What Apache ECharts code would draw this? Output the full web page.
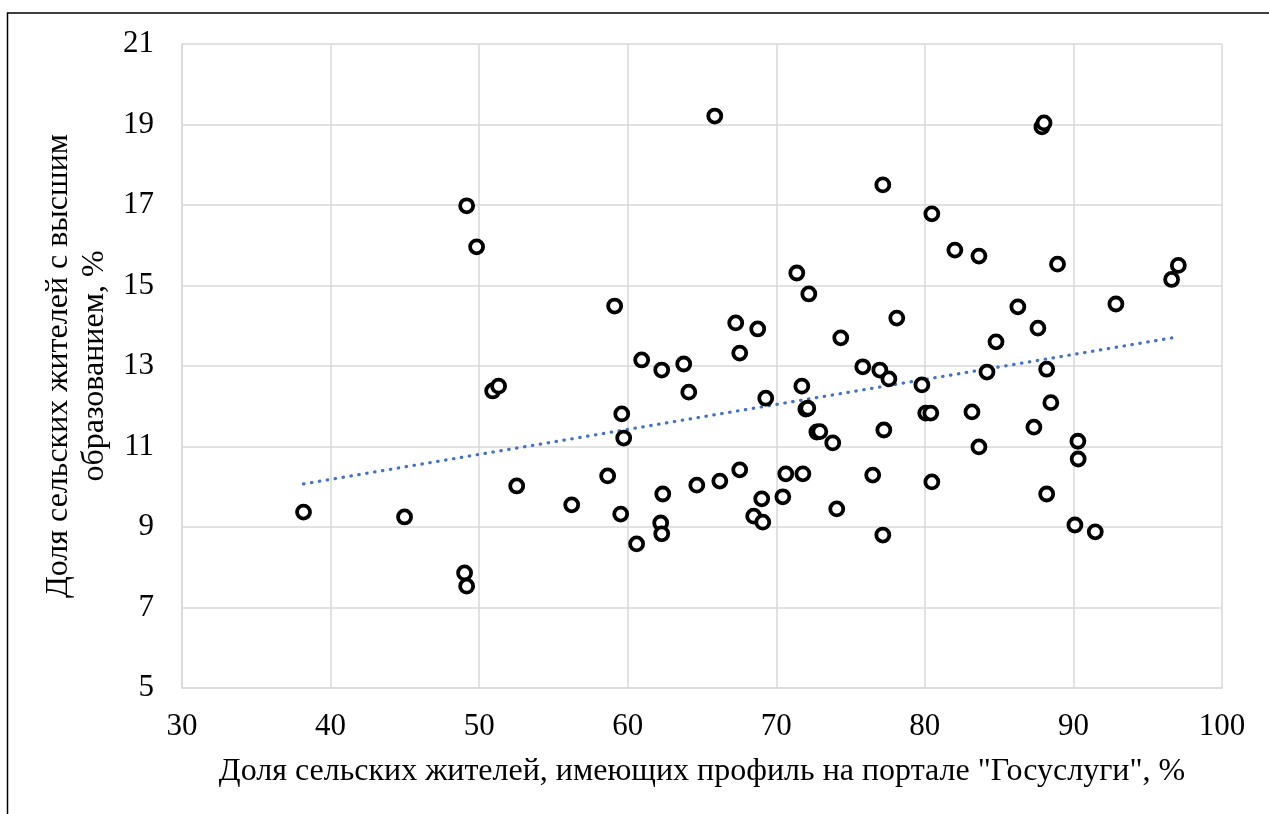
<!DOCTYPE html>
<html>
<head>
<meta charset="utf-8">
<script src="https://cdn.jsdelivr.net/npm/echarts@6/dist/echarts.min.js"></script>
<style>
html,body{margin:0;padding:0;background:#fff;}
#main{width:1269px;height:814px;}
</style>
</head>
<body>
<div id="main"></div>
<script>
// X: share of rural residents with a Gosuslugi profile, %
var xValues = [
  38.18, 44.98, 49.16, 49.83, 49.02, 49.16, 50.91, 51.31, 52.53, 56.23,
  58.65, 59.12, 59.60, 59.73, 59.53, 60.60, 60.94, 62.22, 62.29, 62.29,
  62.36, 63.77, 64.11, 64.65, 65.86, 66.20, 67.27, 67.54, 67.54, 68.75,
  68.48, 69.02, 69.09, 69.29, 70.44, 70.64, 71.38, 71.72, 71.79, 72.19,
  71.99, 72.12, 72.73, 72.93, 73.80, 74.07, 74.34, 75.82, 76.49, 76.97,
  77.17, 77.17, 77.24, 77.58, 78.11, 79.80, 80.06, 80.40, 80.47, 80.47,
  82.02, 83.17, 83.64, 83.64, 84.18, 84.79, 86.26, 87.34, 87.61, 87.88,
  88.02, 88.20, 88.48, 88.20, 88.93, 90.30, 90.32, 90.10, 91.47, 92.86,
  96.61, 97.06
];
// Y: share of rural residents with higher education, %
var yValues = [
  9.37, 9.25, 16.98, 15.96, 7.86, 7.53, 12.38, 12.50, 10.02, 9.55,
  10.27, 14.49, 11.81, 11.21, 9.32, 8.58, 13.15, 9.10, 8.83, 12.90,
  9.82, 13.05, 12.35, 10.04, 19.21, 10.14, 14.07, 13.32, 10.42, 13.92,
  9.27, 9.70, 9.12, 12.20, 9.75, 10.32, 15.31, 12.50, 10.32, 14.79,
  11.93, 11.95, 11.36, 11.37, 11.09, 9.45, 13.70, 12.98, 10.29, 12.90,
  8.80, 17.50, 11.41, 12.68, 14.19, 12.53, 11.83, 11.83, 16.78, 10.12,
  15.88, 11.86, 15.73, 10.99, 12.85, 13.60, 14.47, 11.48, 13.94, 18.94,
  19.04, 12.92, 12.09, 9.82, 15.53, 11.13, 10.69, 9.05, 8.88, 14.54,
  15.15, 15.50
];
var xTicks = [30, 40, 50, 60, 70, 80, 90, 100];
var yTicks = [5, 7, 9, 11, 13, 15, 17, 19, 21];

var xTitle = 'Доля сельских жителей, имеющих профиль на портале "Госуслуги", %';
var yTitle = 'Доля сельских жителей с высшим\nобразованием, %';

// scatter data
var points = xValues.map(function (x, i) { return [x, yValues[i]]; });

// linear trend (least squares) computed from the data
var n = xValues.length, sx = 0, sy = 0, sxx = 0, sxy = 0;
for (var i = 0; i < n; i++) {
  sx += xValues[i]; sy += yValues[i];
  sxx += xValues[i] * xValues[i]; sxy += xValues[i] * yValues[i];
}
var slope = (n * sxy - sx * sy) / (n * sxx - sx * sx);
var intercept = (sy - slope * sx) / n;
var xMin = Math.min.apply(null, xValues), xMax = Math.max.apply(null, xValues);
var trend = [[xMin, intercept + slope * xMin], [xMax, intercept + slope * xMax]];

var font = 'Liberation Serif, Times New Roman, serif';
var chart = echarts.init(document.getElementById('main'), null, {renderer: 'canvas'});
chart.setOption({
  backgroundColor: '#ffffff',
  animation: false,
  graphic: [{
    type: 'rect',
    shape: {x: 7.5, y: 13, width: 1400, height: 1000},
    style: {fill: 'none', stroke: '#000', lineWidth: 1.5},
    silent: true, z: 100
  }],
  grid: {left: 182, right: 47, top: 44, bottom: 126, containLabel: false},
  xAxis: {
    type: 'value',
    min: xTicks[0], max: xTicks[xTicks.length - 1], interval: 10,
    name: xTitle, nameLocation: 'middle', nameGap: 68,
    nameTextStyle: {fontFamily: font, fontSize: 32, color: '#000'},
    axisLine: {show: true, lineStyle: {color: '#d9d9d9', width: 1.5}},
    axisTick: {show: false},
    axisLabel: {fontFamily: font, fontSize: 31, color: '#000', margin: 23},
    splitLine: {show: true, lineStyle: {color: '#d9d9d9', width: 1.5}}
  },
  yAxis: {
    type: 'value',
    min: yTicks[0], max: yTicks[yTicks.length - 1], interval: 2,
    name: yTitle, nameLocation: 'middle', nameGap: 60,
    nameTextStyle: {fontFamily: font, fontSize: 32, color: '#000', lineHeight: 36, align: 'center'},
    axisLine: {show: true, lineStyle: {color: '#d9d9d9', width: 1.5}},
    axisTick: {show: false},
    axisLabel: {fontFamily: font, fontSize: 31, color: '#000', margin: 28},
    splitLine: {show: true, lineStyle: {color: '#d9d9d9', width: 1.5}}
  },
  series: [
    {
      type: 'line',
      data: trend,
      symbol: 'none',
      lineStyle: {color: '#4472C4', width: 3.2, type: [0.5, 7.5], cap: 'round'},
      z: 1
    },
    {
      type: 'scatter',
      data: points,
      symbol: 'circle',
      symbolSize: 13,
      itemStyle: {color: '#ffffff', borderColor: '#000000', borderWidth: 3.8, opacity: 1},
      z: 2
    }
  ]
});
</script>
</body>
</html>
